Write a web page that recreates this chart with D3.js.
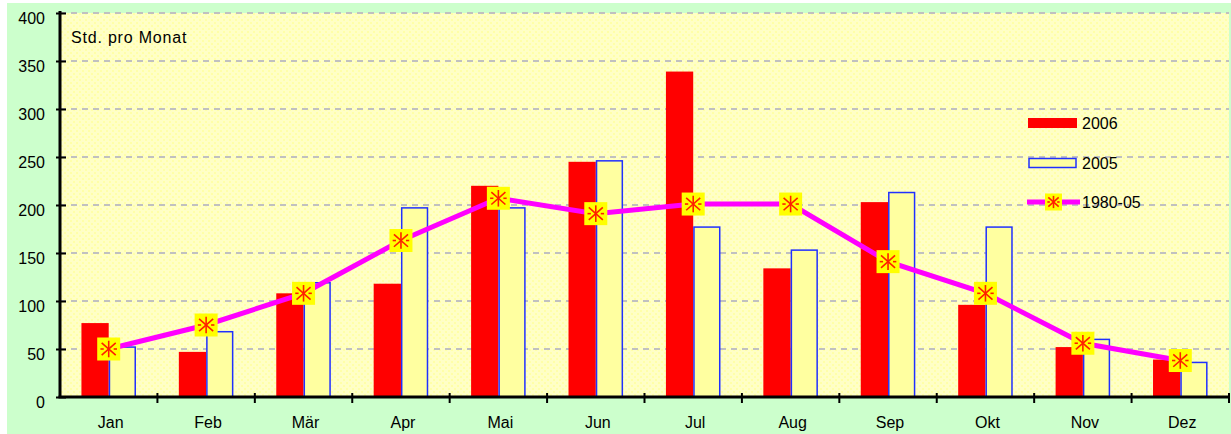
<!DOCTYPE html>
<html>
<head>
<meta charset="utf-8">
<script src="https://cdn.jsdelivr.net/npm/d3@7"></script>
<style>
  html, body { margin: 0; padding: 0; background: #fff; }
  svg { display: block; font-family: Arial, "Liberation Sans", sans-serif; }
</style>
</head>
<body>
<div id="chart"></div>
<script>
// data
const months = ['Jan', 'Feb', 'Mär', 'Apr', 'Mai', 'Jun', 'Jul', 'Aug', 'Sep', 'Okt', 'Nov', 'Dez'];
const hours2006 = [77, 47, 108, 118, 220, 245, 339, 134, 203, 96, 52, 39];
const hours2005 = [52, 68, 119, 197, 197, 246, 177, 153, 213, 177, 60, 36];
const mean8005 = [50, 75, 108, 163, 207, 191, 201, 201, 141, 108, 56, 38];
const yTicks = [0, 50, 100, 150, 200, 250, 300, 350, 400];

const W = 1231, H = 434;
const margin = { LEFT: 60, RIGHT: 2, TOP: 13, BOTTOM: 37 };
const FS = 16;

const svg = d3.select('#chart').append('svg')
  .attr('width', W)
  .attr('height', H);

// dotted plot background
const defs = svg.append('defs');
const pat = defs.append('pattern')
  .attr('id', 'dots')
  .attr('width', 6)
  .attr('height', 6)
  .attr('patternUnits', 'userSpaceOnUse');
pat.append('rect').attr('width', 6).attr('height', 6).attr('fill', '#ffffc6');
pat.append('rect').attr('x', 1).attr('y', 1).attr('width', 2).attr('height', 2).attr('fill', '#ffffa8');
pat.append('rect').attr('x', 4).attr('y', 4).attr('width', 2).attr('height', 2).attr('fill', '#ffffa8');

// outer green area
svg.append('rect')
  .attr('x', 7).attr('y', 3)
  .attr('width', W - 7).attr('height', H - 3)
  .attr('fill', '#ccffcc');

const x0 = margin.LEFT, x1 = W - margin.RIGHT;
const yTop = margin.TOP, yBot = H - margin.BOTTOM;

const x = d3.scaleBand().domain(months).range([x0, x1]);
const bw = x.bandwidth();
const xs = d3.scaleBand().domain(['2006', '2005']).range([bw * 0.22, bw * 0.78]);
const y = d3.scaleLinear().domain([0, 400]).range([yBot, yTop]);

svg.append('rect')
  .attr('x', x0).attr('y', yTop)
  .attr('width', x1 - x0).attr('height', yBot - yTop)
  .attr('fill', 'url(#dots)');

// dashed grid
svg.append('g')
  .selectAll('line')
  .data(yTicks.filter(d => d > 0))
  .join('line')
  .attr('x1', x0).attr('x2', x1)
  .attr('y1', d => y(d)).attr('y2', d => y(d))
  .attr('stroke', '#c0c0c0')
  .attr('stroke-width', 2)
  .attr('stroke-dasharray', '6,5');

// bars 2006
svg.append('g')
  .selectAll('rect')
  .data(hours2006)
  .join('rect')
  .attr('x', (d, i) => x(months[i]) + xs('2006'))
  .attr('y', d => y(d))
  .attr('width', xs.bandwidth())
  .attr('height', d => yBot - y(d))
  .attr('fill', '#ff0000');

// bars 2005
svg.append('g')
  .selectAll('rect')
  .data(hours2005)
  .join('rect')
  .attr('x', (d, i) => x(months[i]) + xs('2005') + 0.75)
  .attr('y', d => y(d))
  .attr('width', xs.bandwidth() - 1.5)
  .attr('height', d => yBot - y(d))
  .attr('fill', '#ffffa0')
  .attr('stroke', '#2030ff')
  .attr('stroke-width', 1.5);

// long-term mean line
const line = d3.line()
  .x((d, i) => x(months[i]) + bw / 2)
  .y(d => y(d));

svg.append('path')
  .attr('d', line(mean8005))
  .attr('fill', 'none')
  .attr('stroke', '#ff00ff')
  .attr('stroke-width', 5);

function marker(g, cx, cy, s) {
  const m = g.append('g').attr('transform', `translate(${cx},${cy})`);
  m.append('rect')
    .attr('x', -s / 2).attr('y', -s / 2)
    .attr('width', s).attr('height', s)
    .attr('fill', '#ffff00');
  const r = s * 0.36;
  const seg = (a, b, c, d) => {
    m.append('line')
      .attr('x1', a).attr('y1', b).attr('x2', c).attr('y2', d)
      .attr('stroke', '#ff2000')
      .attr('stroke-width', 1.6);
  };
  seg(0, -r, 0, r);
  seg(-r * 0.85, -r * 0.75, r * 0.85, r * 0.75);
  seg(-r * 0.85, r * 0.75, r * 0.85, -r * 0.75);
  seg(-r, 0, -r * 0.6, 0);
  seg(r * 0.6, 0, r, 0);
}

const markers = svg.append('g');
mean8005.forEach((d, i) => marker(markers, x(months[i]) + bw / 2, y(d), 23));

// y axis
const yAxis = svg.append('g')
  .attr('transform', `translate(${x0},0)`)
  .call(d3.axisLeft(y).tickValues(yTicks).tickSize(5).tickPadding(10));
yAxis.select('.domain').attr('stroke', '#000').attr('stroke-width', 3)
  .attr('d', `M0,${yTop - 2}V${yBot}`);
yAxis.selectAll('.tick line').attr('x1', -4).attr('x2', 6).attr('stroke', '#000').attr('stroke-width', 2);
yAxis.selectAll('.tick text')
  .attr('font-size', FS)
  .attr('font-family', 'Arial, "Liberation Sans", sans-serif')
  .attr('dy', '0.66em')
  .attr('fill', '#000');

// x axis
const xAxis = svg.append('g')
  .attr('transform', `translate(0,${yBot})`);
xAxis.append('line')
  .attr('x1', x0 - 1.5).attr('x2', x1)
  .attr('stroke', '#000').attr('stroke-width', 3);
xAxis.selectAll('line.tk')
  .data(months.slice(1).concat(['end']))
  .join('line')
  .attr('class', 'tk')
  .attr('x1', (d, i) => x0 + bw * (i + 1))
  .attr('x2', (d, i) => x0 + bw * (i + 1))
  .attr('y1', -4).attr('y2', 6)
  .attr('stroke', '#000').attr('stroke-width', 2);
xAxis.selectAll('text')
  .data(months)
  .join('text')
  .attr('x', d => x(d) + bw / 2 + 2)
  .attr('y', 31)
  .attr('text-anchor', 'middle')
  .attr('font-size', FS)
  .attr('fill', '#000')
  .text(d => d);

// unit label
svg.append('text')
  .attr('x', 71).attr('y', 43)
  .attr('font-size', FS)
  .attr('letter-spacing', 0.8)
  .attr('fill', '#000')
  .text('Std. pro Monat');

// legend
const leg = svg.append('g');
leg.append('rect')
  .attr('x', 1028).attr('y', 118).attr('width', 49).attr('height', 10)
  .attr('fill', '#ff0000');
leg.append('rect')
  .attr('x', 1029).attr('y', 158.5).attr('width', 47).attr('height', 9)
  .attr('fill', '#ffffa0').attr('stroke', '#2030ff').attr('stroke-width', 1.5);
leg.append('line')
  .attr('x1', 1027).attr('x2', 1080).attr('y1', 202).attr('y2', 202)
  .attr('stroke', '#ff00ff').attr('stroke-width', 5);
marker(leg, 1053.5, 202, 17);
[['2006', 129], ['2005', 169], ['1980-05', 208]].forEach(([t, yy]) => {
  leg.append('text')
    .attr('x', 1082).attr('y', yy)
    .attr('font-size', FS)
    .attr('fill', '#000')
    .text(t);
});
</script>
</body>
</html>
